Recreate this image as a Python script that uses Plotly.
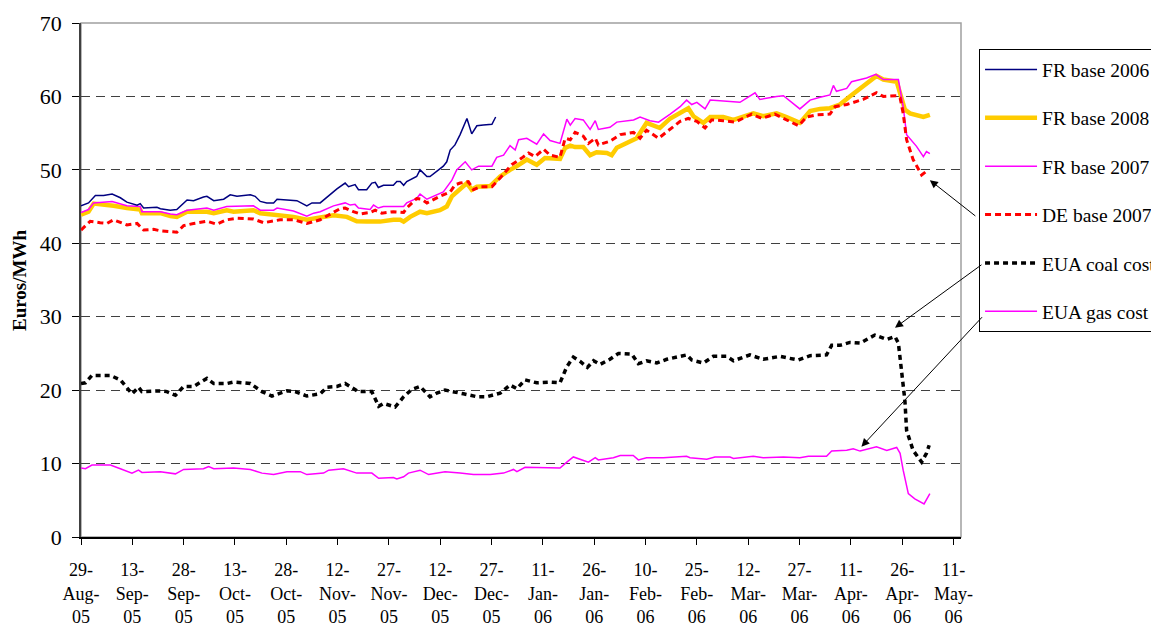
import pandas as pd
import plotly.graph_objects as go

START = pd.Timestamp("2005-08-29")

# ---- data (day offsets from 29-Aug-2005, values in EUR/MWh) ----
fr2006_days = [0, 2.2, 4.2, 6.6, 9.1, 11.5, 13.4, 16.4, 17.3, 18.3, 22.2, 23.2, 26.1, 28.0, 31.0, 32.9,
               35.8, 36.8, 38.8, 41.7, 43.6, 45.6, 49.5, 50.9, 52.4, 54.3, 56.3, 57.3, 60.2, 63.1, 66.0,
               67.5, 69.9, 72.8, 74.8, 77.2, 78.2, 80.1, 81.1, 83.5, 85.0, 86.0, 86.9, 88.4, 91.3, 92.3,
               93.3, 94.3, 95.2, 98.1, 99.1, 101.1, 102.0, 105.9, 106.9, 107.9, 109.3, 110.8, 112.8,
               114.2, 115.7, 117.6, 120.1, 121.2]
fr2006_vals = [45.1, 45.5, 46.5, 46.5, 46.7, 46.2, 45.6, 45.2, 45.4, 44.8, 44.9, 44.7, 44.5, 44.6, 45.9, 45.8,
               46.3, 46.4, 45.8, 46.0, 46.6, 46.4, 46.6, 46.4, 45.7, 45.5, 45.5, 46.0, 45.9, 45.8, 45.1,
               45.5, 45.5, 46.7, 47.4, 48.2, 47.7, 48.0, 47.3, 47.3, 48.2, 48.3, 47.6, 47.9, 47.9, 48.4,
               48.4, 47.9, 48.4, 49.1, 50.0, 49.1, 49.1, 50.5, 51.1, 52.7, 53.4, 54.8, 57.0,
               54.9, 56.0, 56.1, 56.2, 57.2]

fr2008_days = [0, 2.2, 3.7, 8.6, 9.5, 13.4, 17.3, 17.8, 23.2, 26.1, 28.0, 31.0, 36.8, 38.8, 42.6, 44.6,
               50.4, 52.4, 56.3, 62.1, 66.0, 70.9, 73.8, 77.7, 80.6, 83.5, 87.4, 91.3, 93.3, 94.3, 96.2,
               99.1, 101.1, 104.9, 106.9, 108.4, 110.8, 112.8, 114.2, 115.7, 119.6, 122.5, 125.4, 127.4,
               130.3, 133.2, 135.6, 140.0, 141.5, 143.0, 144.4, 146.8, 148.8, 150.7, 153.7, 155.1, 156.6,
               160.5, 162.4, 165.3, 168.3, 169.2, 172.2, 176.1, 177.5, 179.0, 181.9, 183.9, 187.7, 190.7,
               193.6, 196.5, 199.4, 203.3, 206.2, 210.1, 213.1, 216.0, 218.9, 221.8, 224.7, 228.6, 232.5,
               234.5, 238.4, 240.8, 242.3, 246.2, 248.1]
fr2008_vals = [43.9, 44.3, 45.4, 45.2, 45.1, 44.8, 44.6, 44.1, 44.1, 43.7, 43.6, 44.3, 44.3, 44.1, 44.5, 44.3,
               44.5, 44.1, 43.9, 43.6, 43.2, 43.6, 43.8, 43.6, 43.0, 42.95, 42.95, 43.2, 43.2, 42.95, 43.6,
               44.3, 44.1, 44.5, 45.0, 46.4, 47.3, 48.2, 47.3, 47.7, 47.8, 49.1, 50.0, 50.5,
               51.4, 50.7, 51.6, 51.5, 53.0, 53.3, 53.1, 53.1, 52.0, 52.4, 52.3, 52.0, 53.0,
               53.9, 54.3, 56.4, 55.9, 55.7, 57.0, 58.0, 58.4, 57.3, 56.4, 57.2, 57.2, 56.8,
               57.3, 57.7, 57.3, 57.7, 57.2, 56.4, 58.0, 58.3, 58.4, 58.9, 60.0, 61.4, 62.8,
               62.3, 62.0, 58.2, 57.7, 57.2, 57.5]

fr2007_days = [0, 2.2, 3.7, 8.6, 9.1, 13.4, 17.3, 17.8, 23.2, 26.1, 28.0, 31.0, 36.8, 38.8, 42.6, 50.4,
               52.4, 56.3, 57.3, 62.1, 66.0, 68.0, 69.9, 73.8, 77.2, 78.7, 80.1, 81.1, 84.5, 85.5, 86.9,
               88.4, 94.3, 95.2, 98.1, 99.1, 101.1, 105.9, 108.4, 109.8, 112.3, 114.2, 116.2, 120.1,
               121.5, 123.5, 125.4, 126.9, 127.9, 130.3, 133.2, 135.2, 137.1, 140.0, 142.0, 143.0, 144.4,
               146.8, 148.8, 150.3, 151.2, 154.6, 156.6, 161.5, 163.4, 166.3, 168.8, 172.2, 175.1, 177.0,
               178.5, 180.0, 182.4, 183.9, 189.7, 192.6, 197.0, 198.4, 203.3, 205.3, 210.1, 213.1, 216.0,
               218.9, 219.9, 220.8, 223.8, 225.2, 229.6, 232.3, 234.5, 238.9, 240.3, 241.3, 244.2, 246.2,
               247.1, 248.1]
fr2007_vals = [44.2, 44.6, 45.5, 45.6, 45.7, 45.1, 45.0, 44.3, 44.3, 44.0, 43.9, 44.5, 44.8, 44.5, 45.0, 45.1,
               44.5, 44.5, 44.8, 44.4, 43.7, 44.1, 44.3, 45.1, 45.5, 45.2, 45.3, 44.8, 44.6, 45.2, 44.8,
               45.0, 45.0, 45.5, 46.1, 46.7, 46.0, 47.0, 48.6, 50.0, 51.1, 50.0, 50.5, 50.5,
               51.7, 52.0, 53.3, 52.7, 54.1, 54.3, 53.5, 54.9, 54.0, 53.6, 56.9, 56.1, 57.0,
               56.8, 55.5, 56.7, 55.5, 55.8, 56.5, 56.8, 57.2, 56.7, 56.5, 57.6, 58.6, 59.5,
               58.9, 59.2, 58.3, 59.5, 59.3, 59.2, 60.5, 59.6, 60.0, 60.1, 58.3, 59.5, 59.9,
               60.2, 61.5, 60.7, 61.1, 62.0, 62.5, 63.0, 62.3, 62.3, 58.6, 54.8, 53.2, 51.8,
               52.5, 52.2]

de2007_days = [0, 2.7, 5.6, 7.6, 9.5, 13.4, 16.4, 18.3, 21.2, 23.2, 28.0, 30.0, 32.9, 36.8, 39.7, 42.6,
               45.6, 50.4, 53.4, 56.3, 58.2, 62.1, 66.0, 69.9, 72.8, 75.7, 77.2, 79.6, 81.6, 84.5, 86.0,
               87.9, 91.3, 94.3, 95.2, 98.1, 99.6, 101.1, 104.9, 107.9, 109.3, 110.8, 113.2, 114.7, 116.6,
               120.1, 122.5, 125.9, 128.8, 130.8, 132.7, 135.2, 137.1, 140.0, 141.5, 143.0, 144.4, 146.8,
               148.3, 150.3, 151.2, 154.6, 157.6, 161.5, 163.4, 165.3, 168.8, 172.2, 175.1, 177.5, 180.0,
               182.4, 184.3, 187.7, 191.2, 196.0, 199.0, 202.8, 205.3, 209.7, 212.1, 215.0, 218.9, 220.4,
               223.8, 228.6, 232.5, 234.5, 238.4, 239.4, 240.3, 241.3, 243.2, 245.7, 247.1]
de2007_vals = [41.8, 43.0, 42.8, 42.7, 43.2, 42.5, 42.7, 41.8, 41.9, 41.7, 41.5, 42.4, 42.7, 43.0, 42.6, 43.2,
               43.4, 43.3, 42.8, 43.0, 43.2, 43.2, 42.7, 43.2, 43.9, 44.7, 44.8, 44.3, 44.0, 44.2, 44.5,
               44.1, 44.3, 44.2, 44.8, 46.1, 46.0, 45.5, 46.4, 47.0, 47.95, 48.2, 48.4, 47.3, 47.7,
               47.7, 48.9, 50.7, 51.6, 52.3, 51.8, 52.8, 52.0, 51.7, 54.3, 54.1, 55.1, 54.6,
               53.6, 54.3, 53.4, 53.9, 54.8, 55.1, 54.3, 55.4, 54.3, 55.5, 56.6, 57.0, 56.6,
               55.7, 56.8, 56.7, 56.5, 57.6, 57.0, 57.6, 57.0, 56.0, 57.2, 57.5, 57.6, 58.6,
               58.9, 59.6, 60.5, 60.0, 60.1, 59.8, 57.7, 54.1, 51.4, 49.3, 49.8]

coal_days = [0, 1.3, 3.2, 8.6, 11.5, 14.9, 16.8, 17.8, 23.2, 25.1, 27.6, 30.0, 32.9, 36.8, 38.8, 42.6,
             44.6, 49.5, 52.9, 55.8, 60.2, 62.6, 66.0, 69.9, 71.9, 74.8, 77.2, 81.1, 85.0, 87.0, 88.4,
             91.8, 94.3, 96.7, 99.1, 102.0, 104.0, 106.4, 111.8, 115.7, 118.6, 122.5, 125.4, 127.4,
             129.8, 133.2, 137.1, 140.0, 142.0, 143.9, 145.9, 148.0, 149.8, 151.7, 154.6, 157.1, 161.0,
             162.9, 165.3, 168.3, 171.2, 177.0, 178.5, 181.9, 184.8, 188.7, 190.7, 195.5, 199.4, 204.3,
             209.6, 213.1, 217.9, 219.4, 221.8, 224.7, 227.7, 232.0, 235.5, 237.9, 238.9, 239.8, 240.8,
             241.3, 243.2, 245.7, 247.1, 247.9]
coal_vals = [20.9, 21.0, 22.0, 22.0, 21.4, 19.5, 20.4, 19.8, 19.9, 19.8, 19.3, 20.5, 20.5, 21.6, 20.9, 20.9,
             21.1, 20.9, 19.8, 19.2, 19.9, 19.8, 19.2, 19.5, 20.4, 20.5, 20.9, 19.8, 19.8, 17.8, 18.2,
             17.7, 19.1, 20.1, 20.5, 19.1, 19.6, 20.0, 19.5, 19.1, 19.1, 19.6, 20.7, 20.2,
             21.4, 21.0, 21.1, 21.0, 23.2, 24.5, 23.9, 23.1, 24.0, 23.5, 24.2, 25.0, 24.9,
             23.6, 24.0, 23.7, 24.2, 24.8, 24.1, 23.7, 24.6, 24.6, 24.0, 24.8, 24.2, 24.6,
             24.1, 24.7, 24.8, 26.1, 26.1, 26.5, 26.4, 27.5, 26.9, 27.3, 26.4, 22.7, 18.6,
             14.5, 11.8, 10.2, 11.4, 12.5]

gas_days = [0, 1.3, 3.2, 8.6, 11.5, 14.9, 16.8, 17.8, 23.2, 27.6, 30.0, 35.8, 37.3, 38.8, 44.6, 49.5,
            52.9, 56.3, 60.2, 64.1, 66.0, 70.9, 72.4, 76.7, 80.6, 85.0, 87.0, 91.3, 92.3, 94.3, 95.7,
            99.1, 101.6, 106.4, 110.8, 114.7, 119.6, 123.5, 126.4, 127.4, 129.8, 140.0, 142.0, 143.9,
            148.3, 150.3, 151.2, 155.6, 157.6, 161.4, 162.9, 165.3, 170.2, 177.0, 178.0, 182.9, 185.3,
            189.7, 190.7, 196.5, 199.4, 205.3, 210.1, 212.6, 217.9, 219.4, 223.8, 225.7, 227.7, 232.5,
            235.5, 238.4, 239.4, 240.3, 241.8, 243.7, 246.4, 248.1]
gas_vals = [9.4, 9.3, 9.8, 9.8, 9.3, 8.7, 9.1, 8.8, 8.9, 8.6, 9.2, 9.3, 9.6, 9.3, 9.4, 9.2,
            8.7, 8.5, 8.9, 8.9, 8.5, 8.7, 9.1, 9.3, 8.7, 8.7, 8.0, 8.1, 7.9, 8.2, 8.7,
            9.1, 8.5, 8.9, 8.7, 8.5, 8.5, 8.7, 9.2, 8.9, 9.5, 9.4, 10.2, 10.9,
            10.2, 10.8, 10.5, 10.8, 11.1, 11.1, 10.5, 10.8, 10.8, 11.0, 10.8, 10.6, 10.9,
            10.9, 10.7, 11.0, 10.8, 10.9, 10.8, 11.0, 11.0, 11.7, 11.8, 12.0, 11.7, 12.3,
            11.8, 12.2, 11.4, 9.1, 5.9, 5.2, 4.5, 5.9]

tick_dates = ["2005-08-29", "2005-09-13", "2005-09-28", "2005-10-13", "2005-10-28", "2005-11-12",
              "2005-11-27", "2005-12-12", "2005-12-27", "2006-01-11", "2006-01-26", "2006-02-10",
              "2006-02-25", "2006-03-12", "2006-03-27", "2006-04-11", "2006-04-26", "2006-05-11"]
tick_labels = ["29-<br>Aug-<br>05", "13-<br>Sep-<br>05", "28-<br>Sep-<br>05", "13-<br>Oct-<br>05",
               "28-<br>Oct-<br>05", "12-<br>Nov-<br>05", "27-<br>Nov-<br>05", "12-<br>Dec-<br>05",
               "27-<br>Dec-<br>05", "11-<br>Jan-<br>06", "26-<br>Jan-<br>06", "10-<br>Feb-<br>06",
               "25-<br>Feb-<br>06", "12-<br>Mar-<br>06", "27-<br>Mar-<br>06", "11-<br>Apr-<br>06",
               "26-<br>Apr-<br>06", "11-<br>May-<br>06"]

# arrows: (head day offset, head value, tail dx px, tail dy px)
arrow_de = (248.1, 48.6, 47, 37)
arrow_coal = (237.9, 28.5, 88, -64)
arrow_gas = (228.1, 12.3, 122, -131)


def to_dates(days):
    return [START + pd.Timedelta(days=d) for d in days]


SERIF = "Liberation Serif, Times New Roman, serif"

fig = go.Figure()

series = [
    # name, days, vals, color, width, dash, legendrank
    ("FR base 2008", fr2008_days, fr2008_vals, "#FFCC00", 4.5, "solid", 2),
    ("FR base 2007", fr2007_days, fr2007_vals, "#FF00FF", 1.5, "solid", 3),
    ("DE base 2007", de2007_days, de2007_vals, "#FF0000", 3, "6px,4px", 4),
    ("FR base 2006", fr2006_days, fr2006_vals, "#000080", 1.5, "solid", 1),
    ("EUA coal cost", coal_days, coal_vals, "#000000", 3.5, "5px,4px", 5),
    ("EUA gas cost", gas_days, gas_vals, "#FF00FF", 1.5, "solid", 6),
]
for name, d, v, c, w, dash, rank in series:
    fig.add_trace(go.Scatter(
        x=to_dates(d), y=v, mode="lines", name=name,
        line=dict(color=c, width=w, dash=dash),
        legendrank=rank, legendgroup=name,
    ))

x_end = START + pd.Timedelta(days=257.2)

fig.update_xaxes(
    range=[START, x_end],
    tickmode="array", tickvals=[pd.Timestamp(t) for t in tick_dates], ticktext=tick_labels,
    ticks="outside", ticklen=6, tickcolor="#000000", tickwidth=1,
    showline=True, linecolor="#000000", linewidth=1.5,
    showgrid=False, zeroline=False,
    tickfont=dict(family=SERIF, size=18, color="#000000"),
    ticklabelstandoff=10,
)
fig.update_yaxes(
    range=[0, 70], dtick=10, tick0=0,
    ticks="outside", ticklen=7, tickcolor="#000000", tickwidth=1,
    showline=True, linecolor="#404040", linewidth=1.5,
    showgrid=True, gridcolor="#404040", gridwidth=1, griddash="9px,6px",
    zeroline=False,
    tickfont=dict(family=SERIF, size=22, color="#000000"),
    ticklabelstandoff=6,
)

# plot-area border (top/right grey)
fig.add_shape(type="rect", xref="paper", yref="paper", x0=0, x1=1, y0=0, y1=1,
              line=dict(color="#A0A0A0", width=1.5), layer="between")

for (d, v, ax, ay) in (arrow_de, arrow_coal, arrow_gas):
    fig.add_annotation(
        x=START + pd.Timedelta(days=d), y=v, xref="x", yref="y",
        ax=ax, ay=ay, text="", showarrow=True,
        arrowhead=2, arrowsize=1.6, arrowwidth=1, arrowcolor="#000000",
    )

fig.add_annotation(
    text="<b>Euros/MWh</b>", xref="paper", yref="paper", x=-0.0705, y=0.5,
    xanchor="center", yanchor="middle",
    showarrow=False, textangle=-90, font=dict(family=SERIF, size=19, color="#000000"),
)

fig.update_layout(
    width=1159, height=626,
    margin=dict(l=73, r=206, t=15, b=97.3, autoexpand=False),
    paper_bgcolor="#FFFFFF", plot_bgcolor="#FFFFFF",
    showlegend=True,
    legend=dict(
        x=1.0205, y=0.9488, xanchor="left", yanchor="top",
        bordercolor="#000000", borderwidth=1, bgcolor="#FFFFFF",
        font=dict(family=SERIF, size=19.5, color="#000000"),
        itemwidth=52, tracegroupgap=20, traceorder="grouped",
    ),
)

fig.write_html("out.html")
